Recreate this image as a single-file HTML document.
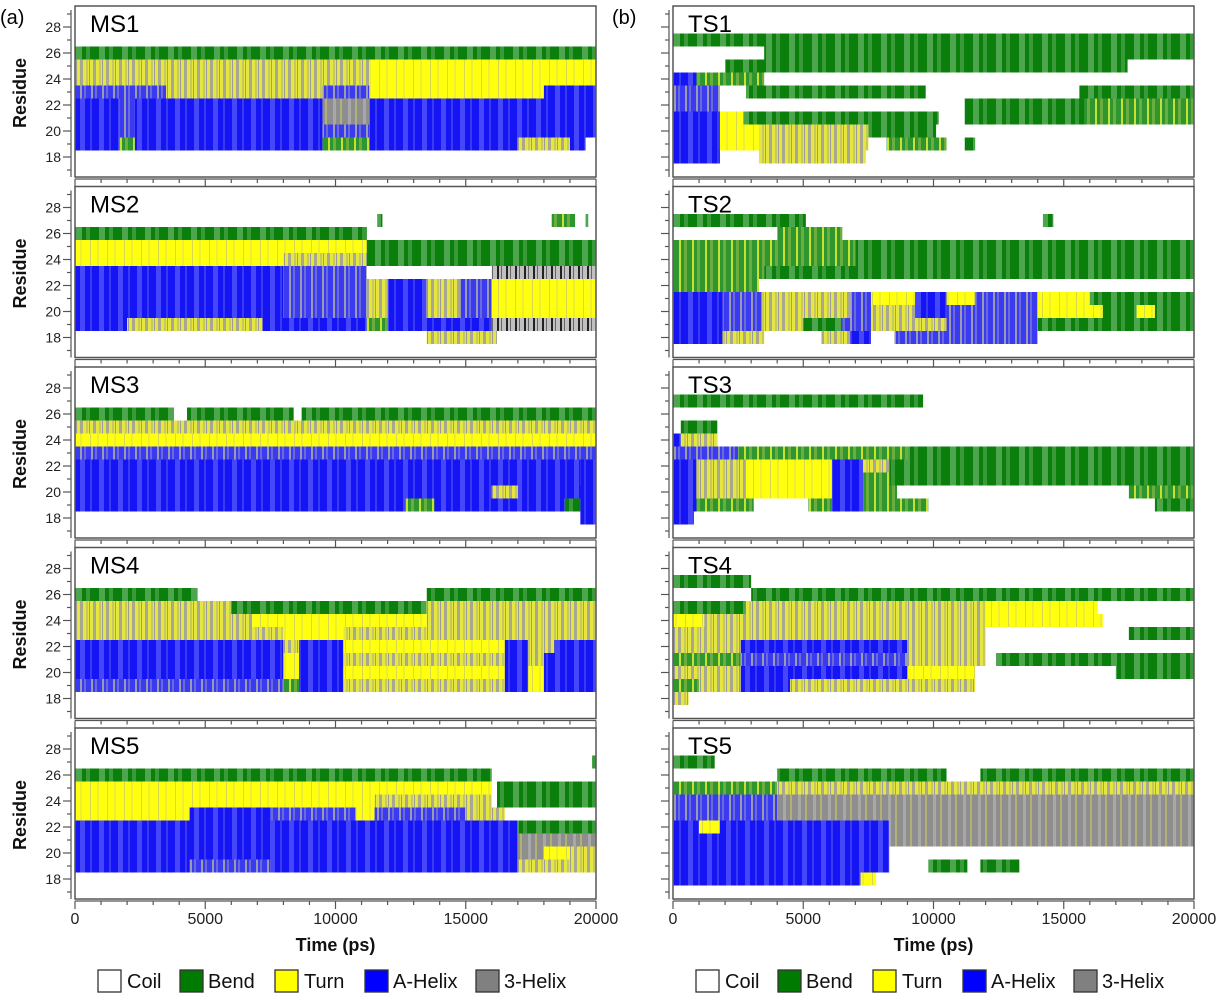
<!DOCTYPE html>
<html><head><meta charset="utf-8"><style>
html,body{margin:0;padding:0;background:#fff;}
svg{display:block;font-family:"Liberation Sans",sans-serif;}
</style></head><body>
<svg id="chart" width="1216" height="1000" viewBox="0 0 1216 1000" xmlns="http://www.w3.org/2000/svg">
<defs>
<pattern id="p-B" patternUnits="userSpaceOnUse" width="23" height="10"><rect width="23" height="10" fill="#0b7f0b"/><rect x="7" width="6" height="10" fill="#4da64d"/><rect x="17" width="4" height="10" fill="#3a9a3a"/></pattern>
<pattern id="p-T" patternUnits="userSpaceOnUse" width="17" height="10"><rect width="17" height="10" fill="#ffff10"/><rect x="5" width="1" height="10" fill="#d8d850"/><rect x="12" width="2" height="10" fill="#eeee30"/></pattern>
<pattern id="p-H" patternUnits="userSpaceOnUse" width="19" height="10"><rect width="19" height="10" fill="#1414f5"/><rect x="4" width="5" height="10" fill="#4646fa"/><rect x="14" width="2" height="10" fill="#3a3af0"/></pattern>
<pattern id="p-G" patternUnits="userSpaceOnUse" width="15" height="10"><rect width="15" height="10" fill="#8e8e8e"/><rect x="3" width="3" height="10" fill="#a8a8a8"/><rect x="10" width="2" height="10" fill="#b0b078"/></pattern>
<pattern id="p-TG" patternUnits="userSpaceOnUse" width="13" height="10"><rect width="13" height="10" fill="#e6e640"/><rect x="2" width="3" height="10" fill="#a8a890"/><rect x="8" width="2" height="10" fill="#c8c860"/><rect x="11" width="1" height="10" fill="#9a9a9a"/></pattern>
<pattern id="p-HG" patternUnits="userSpaceOnUse" width="11" height="10"><rect width="11" height="10" fill="#3a3af0"/><rect x="3" width="2" height="10" fill="#9a9ab0"/><rect x="7" width="2" height="10" fill="#6a6ad8"/></pattern>
<pattern id="p-BT" patternUnits="userSpaceOnUse" width="13" height="10"><rect width="13" height="10" fill="#2f952f"/><rect x="3" width="2" height="10" fill="#c8e030"/><rect x="8" width="3" height="10" fill="#6aae40"/></pattern>
<pattern id="p-K" patternUnits="userSpaceOnUse" width="9" height="10"><rect width="9" height="10" fill="#c0c0c0"/><rect x="2" width="2" height="10" fill="#222"/><rect x="6" width="1" height="10" fill="#666"/></pattern>
</defs>
<g id="plots"></g>
</svg>
<script>
// time ranges in ps; each row: [residue, [start, end, state], ...]
const timeTicks = [0, 5000, 10000, 15000, 20000];
const residueTicks = [18, 20, 22, 24, 26, 28];
const stateNames = ["Coil", "Bend", "Turn", "A-Helix", "3-Helix"];
const stateCodes = ["C", "B", "T", "H", "G"];
const panelNamesLeft = ["MS1", "MS2", "MS3", "MS4", "MS5"];
const panelNamesRight = ["TS1", "TS2", "TS3", "TS4", "TS5"];

const MS1 = [
 [26, [0,20000,"B"]],
 [25, [0,3000,"TG"],[3000,11300,"TG"],[11300,20000,"T"]],
 [24, [0,3000,"TG"],[3000,11300,"TG"],[11300,20000,"T"]],
 [23, [0,3500,"HG"],[3500,9500,"TG"],[9500,11300,"HG"],[11300,18000,"T"],[18000,20000,"H"]],
 [22, [0,1700,"H"],[1700,2300,"HG"],[2300,9500,"H"],[9500,11300,"G"],[11300,20000,"H"]],
 [21, [0,1700,"H"],[1700,2300,"HG"],[2300,9500,"H"],[9500,11300,"G"],[11300,20000,"H"]],
 [20, [0,1700,"H"],[1700,2300,"HG"],[2300,9500,"H"],[9500,11300,"HG"],[11300,20000,"H"]],
 [19, [0,1700,"H"],[1700,2300,"BT"],[2300,9500,"H"],[9500,11300,"BT"],[11300,17000,"H"],[17000,19000,"TG"],[19000,19600,"H"]]
];
const MS2 = [
 [27, [11600,11800,"B"],[18300,19200,"BT"],[19600,19700,"B"]],
 [26, [0,11200,"B"]],
 [25, [0,11200,"T"],[11200,20000,"B"]],
 [24, [0,8000,"T"],[8000,11200,"TG"],[11200,20000,"B"]],
 [23, [0,8000,"H"],[8000,11200,"HG"],[16000,20000,"K"]],
 [22, [0,8000,"H"],[8000,11200,"HG"],[11200,12000,"TG"],[12000,13500,"H"],[13500,14800,"TG"],[14800,16000,"HG"],[16000,20000,"T"]],
 [21, [0,8000,"H"],[8000,11200,"HG"],[11200,12000,"TG"],[12000,13500,"H"],[13500,14800,"TG"],[14800,16000,"HG"],[16000,20000,"T"]],
 [20, [0,8000,"H"],[8000,11200,"HG"],[11200,12000,"TG"],[12000,13500,"H"],[13500,14800,"TG"],[14800,16000,"HG"],[16000,20000,"T"]],
 [19, [0,2000,"H"],[2000,7200,"TG"],[7200,11200,"H"],[11200,12000,"BT"],[12000,16000,"H"],[16000,20000,"K"]],
 [18, [13500,16200,"TG"]]
];
const MS3 = [
 [26, [0,3800,"B"],[4300,8400,"B"],[8700,20000,"B"]],
 [25, [0,20000,"TG"]],
 [24, [0,20000,"T"]],
 [23, [0,20000,"HG"]],
 [22, [0,19400,"H"],[19400,20000,"H"]],
 [21, [0,19400,"H"],[19400,20000,"H"]],
 [20, [0,16000,"H"],[16000,17000,"TG"],[17000,20000,"H"]],
 [19, [0,12700,"H"],[12700,13800,"BT"],[13800,18800,"H"],[18800,19400,"B"],[19400,20000,"H"]],
 [18, [19400,20000,"H"]]
];
const MS4 = [
 [26, [0,4700,"B"],[13500,20000,"B"]],
 [25, [0,6000,"TG"],[6000,13500,"B"],[13500,20000,"TG"]],
 [24, [0,6800,"TG"],[6800,13500,"T"],[13500,20000,"TG"]],
 [23, [0,8000,"TG"],[8000,10300,"T"],[10300,20000,"TG"]],
 [22, [0,8000,"H"],[8000,8600,"TG"],[8600,10300,"H"],[10300,16500,"T"],[16500,17400,"H"],[17400,18400,"TG"],[18400,20000,"H"]],
 [21, [0,8000,"H"],[8000,8600,"T"],[8600,10300,"H"],[10300,16500,"TG"],[16500,17400,"H"],[17400,18000,"TG"],[18000,20000,"H"]],
 [20, [0,8000,"H"],[8000,8600,"T"],[8600,10300,"H"],[10300,16500,"T"],[16500,17400,"H"],[17400,18000,"T"],[18000,20000,"H"]],
 [19, [0,8000,"HG"],[8000,8600,"BT"],[8600,10300,"H"],[10300,16500,"TG"],[16500,17400,"H"],[17400,18000,"T"],[18000,20000,"H"]]
];
const MS5 = [
 [27, [19850,20000,"B"]],
 [26, [0,16000,"B"]],
 [25, [0,16000,"T"],[16200,20000,"B"]],
 [24, [0,11500,"T"],[11500,16000,"TG"],[16200,20000,"B"]],
 [23, [0,4400,"T"],[4400,7500,"H"],[7500,10800,"HG"],[10800,11500,"T"],[11500,15000,"HG"],[15000,16500,"TG"]],
 [22, [0,17000,"H"],[17000,20000,"B"]],
 [21, [0,17000,"H"],[17000,20000,"G"]],
 [20, [0,17000,"H"],[17000,18000,"G"],[18000,19000,"T"],[19000,20000,"TG"]],
 [19, [0,4400,"H"],[4400,7500,"HG"],[7500,17000,"H"],[17000,20000,"TG"]]
];
const TS1 = [
 [27, [0,20000,"B"]],
 [26, [3500,20000,"B"]],
 [25, [2000,17450,"B"]],
 [24, [0,900,"H"],[900,3500,"BT"]],
 [23, [0,1800,"HG"],[2800,9700,"B"],[15600,20000,"B"]],
 [22, [0,1800,"HG"],[11200,15800,"B"],[15800,20000,"BT"]],
 [21, [0,1800,"H"],[1800,2700,"T"],[2700,10200,"B"],[11200,15800,"B"],[15800,20000,"BT"]],
 [20, [0,1800,"H"],[1800,3300,"T"],[3300,7500,"TG"],[7500,10100,"B"]],
 [19, [0,1800,"H"],[1800,3300,"T"],[3300,7500,"TG"],[8200,10500,"BT"],[11200,11600,"B"]],
 [18, [0,1800,"H"],[3300,7400,"TG"]]
];
const TS2 = [
 [27, [0,5100,"B"],[14200,14600,"B"]],
 [26, [4000,6500,"BT"]],
 [25, [0,7000,"BT"],[7000,20000,"B"]],
 [24, [0,7000,"BT"],[7000,20000,"B"]],
 [23, [0,3500,"BT"],[3500,20000,"B"]],
 [22, [0,3300,"BT"]],
 [21, [0,1900,"H"],[1900,3400,"HG"],[3400,6800,"TG"],[6800,7600,"HG"],[7600,9300,"T"],[9300,10500,"H"],[10500,11600,"T"],[11600,14000,"HG"],[14000,16000,"T"],[16000,20000,"B"]],
 [20, [0,1900,"H"],[1900,3400,"HG"],[3400,6800,"TG"],[6800,7600,"HG"],[7600,9300,"TG"],[9300,10500,"H"],[10500,14000,"HG"],[14000,16500,"T"],[16500,17800,"B"],[17800,18500,"T"],[18500,20000,"B"]],
 [19, [0,1900,"H"],[1900,3400,"HG"],[3400,5000,"TG"],[5000,6500,"B"],[6500,7600,"HG"],[7600,10500,"TG"],[10500,14000,"HG"],[14000,20000,"B"]],
 [18, [0,1900,"H"],[1900,3500,"TG"],[5700,6800,"TG"],[6800,7600,"H"],[8500,14000,"HG"]]
];
const TS3 = [
 [27, [0,9600,"B"]],
 [25, [300,1700,"B"]],
 [24, [0,300,"H"],[300,1700,"TG"]],
 [23, [0,2500,"HG"],[2500,9000,"BT"],[9000,20000,"B"]],
 [22, [0,900,"H"],[900,2800,"TG"],[2800,6100,"T"],[6100,7300,"H"],[7300,8300,"TG"],[8300,20000,"B"]],
 [21, [0,900,"H"],[900,2800,"TG"],[2800,6100,"T"],[6100,7300,"H"],[7300,8300,"BT"],[8300,20000,"B"]],
 [20, [0,900,"H"],[900,2800,"TG"],[2800,6100,"T"],[6100,7300,"H"],[7300,8600,"BT"],[17500,20000,"BT"]],
 [19, [0,900,"H"],[900,3100,"BT"],[5200,6100,"BT"],[6100,7300,"H"],[7300,9800,"BT"],[18500,20000,"B"]],
 [18, [0,800,"H"]]
];
const TS4 = [
 [27, [0,3000,"B"]],
 [26, [3000,20000,"B"]],
 [25, [0,2800,"B"],[2800,12000,"TG"],[12000,16300,"T"]],
 [24, [0,1200,"T"],[1200,12000,"TG"],[12000,16500,"T"]],
 [23, [0,12000,"TG"],[17500,20000,"B"]],
 [22, [0,2600,"TG"],[2600,9000,"H"],[9000,12000,"TG"]],
 [21, [0,2600,"BT"],[2600,9000,"HG"],[9000,12000,"TG"],[12400,20000,"B"]],
 [20, [0,2600,"TG"],[2600,9000,"H"],[9000,11600,"T"],[17000,20000,"B"]],
 [19, [0,1000,"BT"],[1000,2600,"TG"],[2600,4500,"H"],[4500,11600,"TG"]],
 [18, [0,600,"TG"]]
];
const TS5 = [
 [27, [0,1600,"B"]],
 [26, [4000,10500,"B"],[11800,20000,"B"]],
 [25, [0,4000,"BT"],[4000,20000,"TG"]],
 [24, [0,4000,"HG"],[4000,20000,"G"]],
 [23, [0,4000,"HG"],[4000,20000,"G"]],
 [22, [0,1000,"H"],[1000,1800,"T"],[1800,8300,"H"],[8300,20000,"G"]],
 [21, [0,8300,"H"],[8300,20000,"G"]],
 [20, [0,8300,"H"]],
 [19, [0,8300,"H"],[9800,11300,"B"],[11800,13300,"B"]],
 [18, [0,7200,"H"],[7200,7800,"T"]]
];
const leftData = [MS1, MS2, MS3, MS4, MS5];
const rightData = [TS1, TS2, TS3, TS4, TS5];

const NS = "http://www.w3.org/2000/svg";
const root = document.getElementById("plots");
function mk(tag, attrs, parent) {
  const e = document.createElementNS(NS, tag);
  for (const k in attrs) e.setAttribute(k, attrs[k]);
  (parent || root).appendChild(e);
  return e;
}
const PW = 521, BOXH = 171, PERIOD = 180.5;
const fills = {C:"#ffffff",B:"url(#p-B)",T:"url(#p-T)",H:"url(#p-H)",G:"url(#p-G)",TG:"url(#p-TG)",HG:"url(#p-HG)",BT:"url(#p-BT)",K:"url(#p-K)"};

function drawPanel(x0, top, name, rows, showLabels, isLast) {
  const g = mk("g", {});
  
  
  const xScale = t => x0 + t / 20000 * PW;
  const yScale = r => top + 151 - (r - 18) * 13;
  rows.forEach(row => {
    const res = row[0];
    for (let i = 1; i < row.length; i++) {
      const s = row[i];
      const r = mk("rect", {x: xScale(s[0]), y: yScale(res) - 6.5, width: xScale(s[1]) - xScale(s[0]), height: 13, fill: fills[s[2]]}, g);
      
      
    }
  });
  const box = mk("rect", {x: x0, y: top, width: PW, height: BOXH, fill: "none", stroke: "#555", "stroke-width": 1.5}, g);
  
  
  const ax = x0 - 4;
  mk("line", {x1: ax, y1: top + 4, x2: ax, y2: top + BOXH, stroke: "#555", "stroke-width": 1.2}, g);
  for (let r = 17; r <= 29; r++) {
    const major = r % 2 === 0;
    mk("line", {x1: ax - (major ? 8 : 4), y1: yScale(r), x2: ax, y2: yScale(r), stroke: "#555", "stroke-width": 1.2}, g);
  }
  if (showLabels) {
    residueTicks.forEach(r => {
      const t = mk("text", {x: ax - 10, y: yScale(r) + 5, "text-anchor": "end", "font-size": 14, fill: "#222"}, g);
      t.textContent = r;
      
      
    });
    const yl = mk("text", {x: 0, y: 0, "text-anchor": "middle", "font-size": 18, "font-weight": "bold", fill: "#111", transform: `translate(26,${top + 87}) rotate(-90)`}, g);
    yl.textContent = "Residue";
    
    
  }
  const ly = top + BOXH + 2;
  mk("line", {x1: x0, y1: ly, x2: x0 + PW, y2: ly, stroke: "#555", "stroke-width": 1.2}, g);
  for (let t = 0; t <= 20000; t += 1000) {
    const major = t % 5000 === 0;
    mk("line", {x1: xScale(t), y1: ly, x2: xScale(t), y2: ly + (major ? 8 : 4), stroke: "#555", "stroke-width": 1.2}, g);
  }
  if (isLast) {
    timeTicks.forEach(t => {
      const tl = mk("text", {x: xScale(t), y: ly + 23, "text-anchor": "middle", "font-size": 16, fill: "#222"}, g);
      tl.textContent = t;
      
      
    });
    const xt = mk("text", {x: x0 + PW / 2, y: ly + 50, "text-anchor": "middle", "font-size": 18, "font-weight": "bold", fill: "#111"}, g);
    xt.textContent = "Time (ps)";
    
    
  }
  const title = mk("text", {x: x0 + 15, y: top + 26, "font-size": 24, fill: "#000"}, g);
  title.textContent = name;
  
  
}

for (let i = 0; i < 5; i++) {
  const top = 6 + i * PERIOD;
  drawPanel(75, top, panelNamesLeft[i], leftData[i], true, i === 4);
  drawPanel(673, top, panelNamesRight[i], rightData[i], false, i === 4);
}

[["(a)", 0], ["(b)", 612]].forEach(p => {
  const t = mk("text", {x: p[1], y: 24, "font-size": 20, fill: "#000"});
  t.textContent = p[0];
  
  
});

const legendFill = ["#ffffff", "#007a00", "#ffff00", "#0000ff", "#808080"];
const legendBoxX = [98, 180, 275, 365, 476];
const legendTextX = [127, 208, 304, 393, 504];
[0, 598].forEach((off, li) => {
  const lg = mk("g", {});
  
  
  stateNames.forEach((s, i) => {
    const r = mk("rect", {x: legendBoxX[i] + off, y: 970, width: 23, height: 22, fill: legendFill[i], stroke: "#333", "stroke-width": 1.3}, lg);
    
    
    const t = mk("text", {x: legendTextX[i] + off, y: 988, "font-size": 20, fill: "#111"}, lg);
    t.textContent = s;
    
    
  });
});
</script>
</body></html>
